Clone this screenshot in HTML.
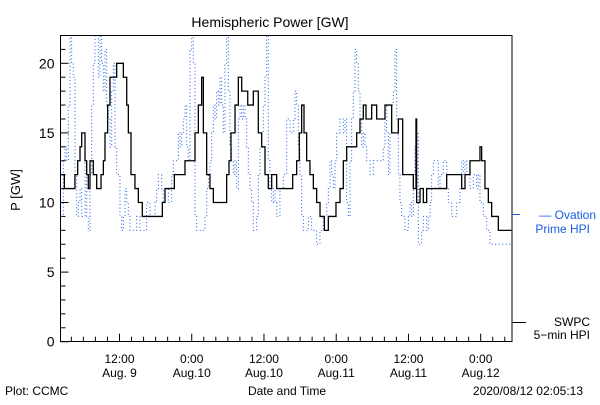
<!DOCTYPE html>
<html><head><meta charset="utf-8"><style>
body{margin:0;background:#fff;}
svg text{font-family:"Liberation Sans",sans-serif;}
</style></head><body>
<svg id="chart" width="600" height="400" xmlns="http://www.w3.org/2000/svg">
<rect width="600" height="400" fill="#fff"/>
<text x="270" y="27" font-size="14" text-anchor="middle">Hemispheric Power [GW]</text>
<text transform="translate(20,190) rotate(-90)" font-size="13" text-anchor="middle">P [GW]</text>
<g id="yaxis"></g>
<g id="xaxis"></g>
<g id="series"></g>
<rect x="60.5" y="35.5" width="451.5" height="306" fill="none" stroke="#000" stroke-width="1"/>
<line x1="512" y1="214.5" x2="520" y2="214.5" stroke="#1a5ce6" stroke-width="1"/>
<text x="596" y="219" font-size="12" fill="#1a5ce6" text-anchor="end">— Ovation</text>
<text x="590" y="233" font-size="12" fill="#1a5ce6" text-anchor="end">Prime HPI</text>
<line x1="512" y1="322.5" x2="526" y2="322.5" stroke="#000" stroke-width="1"/>
<text x="590" y="326" font-size="12" text-anchor="end">SWPC</text>
<text x="590" y="339" font-size="12" text-anchor="end">5−min HPI</text>
<text x="287" y="395" font-size="12" text-anchor="middle">Date and Time</text>
<text x="5" y="395" font-size="12">Plot: CCMC</text>
<text x="583" y="395" font-size="12" text-anchor="end">2020/08/12 02:05:13</text>
</svg>
<script>
const yTicks=[0,5,10,15,20];
const xTickHours=[9.8,21.8,33.8,45.8,57.8,69.8];
const xTickTime=["12:00","0:00","12:00","0:00","12:00","0:00"];
const xTickDate=["Aug. 9","Aug.10","Aug.10","Aug.11","Aug.11","Aug.12"];
const swpcT=[0,0.64,2.4,2.85,3.24,3.52,4.07,4.35,4.62,4.9,5.45,6.01,6.73,7.12,7.39,7.83,8.22,9.33,10.44,11.0,11.27,11.71,12.37,12.93,13.59,16.92,17.36,18.91,20.68,22.34,22.9,23.45,23.73,24.28,24.83,25.39,27.6,27.99,28.32,28.99,29.54,30.1,31.1,32.03,32.86,33.42,33.97,34.52,35.08,35.91,36.46,38.57,39.23,39.67,40.06,40.45,40.89,41.44,42.0,42.55,43.11,43.83,44.49,45.76,46.43,46.98,47.54,49.2,49.75,50.3,50.75,51.69,52.52,53.9,55.01,56.12,56.84,58.61,59.05,59.16,59.72,60.27,60.82,64.15,66.64,67.19,68.02,69.68,69.96,70.51,71.07,71.62,72.73,75.05];
const swpcV=[12,11,12,13,14,15,13,12,11,13,12,11,12,13,15,17,19,20,19,17,15,12,11,10,9,10,11,12,13,15,17,19,15,12,11,10,12,13,15,17,19,18,17,18,15,14,12,11,12,11,11,12,13,15,17,15,13,12,11,10,9,8,9,10,11,13,14,15,16,17,16,17,16,17,15,16,12,11,16,10,11,10,11,12,11,12,13,14,13,11,10,9,8,8];
const ovT=[0.19,0.47,0.75,1.02,1.30,1.58,1.85,2.13,2.41,2.69,2.96,3.24,3.52,4.07,4.35,4.62,4.90,5.18,5.45,5.73,6.01,6.28,6.56,6.84,7.11,7.39,7.67,7.95,8.22,8.50,8.78,9.05,9.33,9.61,9.88,10.16,10.44,10.71,10.99,11.27,11.54,11.82,12.37,12.65,13.20,13.76,14.31,14.87,15.70,15.97,16.25,16.53,16.80,17.08,17.36,17.91,18.46,18.74,19.30,19.57,19.85,20.13,20.40,20.68,20.96,21.23,21.51,21.79,22.06,22.34,22.62,23.17,23.73,24.00,24.28,24.56,24.83,25.11,25.39,25.66,25.94,26.22,26.49,26.77,27.05,27.32,27.60,27.88,28.15,28.43,28.71,28.99,29.26,29.54,29.82,30.09,30.37,30.65,30.92,31.20,31.48,31.75,32.03,32.31,32.58,32.86,33.14,33.41,33.69,33.97,34.24,34.52,34.80,35.08,35.35,35.63,35.91,36.46,37.01,37.29,37.57,38.12,38.67,38.95,39.23,39.51,39.78,40.06,40.34,40.89,41.17,41.72,42.27,42.55,43.10,43.66,44.21,44.49,44.77,45.04,45.32,45.60,45.87,46.43,46.98,47.26,47.53,47.81,48.09,48.36,48.64,48.92,49.20,49.47,49.75,50.03,50.30,50.58,50.86,51.41,51.96,53.07,53.35,53.62,53.90,54.18,54.46,54.73,55.01,55.29,55.56,55.84,56.12,56.39,56.67,56.95,57.22,57.50,57.78,58.05,58.33,58.61,58.88,59.16,59.44,59.99,60.27,60.82,61.10,61.38,61.65,61.93,62.48,62.76,63.04,63.59,64.15,64.42,64.70,64.98,65.25,65.81,66.36,66.64,66.91,67.19,67.47,68.02,68.57,68.85,69.13,69.40,69.68,70.23,70.79,71.34,71.90,72.45,75.05];
const ovV=[9,13,14,13,17,22,20,19,12,9,10,11,9,13,9,8,12,17,20,22,22,19,22,20,18,21,17,16,14,18,20,14,12,12,9,8,9,11,10,9,8,8,8,9,8,8,10,9,10,11,12,12,11,10,11,10,12,13,13,15,14,15,16,17,14,13,21,22,20,9,8,8,8,9,11,12,13,15,17,16,18,17,19,17,15,20,22,18,14,13,12,13,11,16,17,16,17,16,14,12,11,10,8,8,9,12,14,15,17,19,22,13,11,10,11,10,9,11,12,12,16,15,16,18,17,14,12,9,8,8,9,8,8,7,8,9,10,11,13,12,11,13,15,16,15,16,10,9,13,16,18,21,20,18,16,14,15,14,13,12,13,13,13,14,17,15,12,15,17,18,21,16,12,10,9,9,8,8,9,10,9,12,14,15,7,8,9,8,9,10,12,13,13,11,12,13,11,10,10,9,9,10,11,13,12,13,12,11,12,12,11,12,10,9,8,7,7,7,8,8];
const X0=60.5,PXH=6.02,Y0=341.7,PYU=13.92,YTOP=35.5,XR=512;
const xs=h=>X0+h*PXH;
const ys=v=>Math.max(YTOP,Y0-v*PYU);
const NS="http://www.w3.org/2000/svg";
function mk(tag,attrs,parent){const e=document.createElementNS(NS,tag);for(const k in attrs)e.setAttribute(k,attrs[k]);parent.appendChild(e);return e;}
const ya=document.getElementById('yaxis');
for(let v=0;v<=22;v++){const y=ys(v);const t=mk('line',{x1:X0,x2:X0+(v%5===0?8:5),y1:y,y2:y,stroke:'#000'},ya);

}
yTicks.forEach(v=>{const t=mk('text',{x:X0-6,y:ys(v)+5,'font-size':14,'text-anchor':'end'},ya);t.textContent=v;

});
const xa=document.getElementById('xaxis');
for(let h=xTickHours[0]-10;h<=75;h+=2){if(h<0)continue;const x=xs(h);const maj=xTickHours.some(m=>Math.abs(m-h)<0.01);
const t=mk('line',{x1:x,x2:x,y1:Y0,y2:Y0-(maj?8:5),stroke:'#000'},xa);

}
xTickHours.forEach((h,i)=>{const t1=mk('text',{x:xs(h),y:363,'font-size':12,'text-anchor':'middle'},xa);t1.textContent=xTickTime[i];


const t2=mk('text',{x:xs(h),y:377,'font-size':12,'text-anchor':'middle'},xa);t2.textContent=xTickDate[i];

});
function stepPath(T,V){let d='';for(let i=0;i<T.length;i++){const x=Math.min(XR,xs(T[i])),y=ys(V[i]);
if(i===0)d+='M'+x+','+y;else d+='H'+x+'V'+y;}return d;}
const sg=document.getElementById('series');
const ov=mk('path',{d:stepPath(ovT,ovV),fill:'none',stroke:'#1a5ce6','stroke-width':1,'stroke-dasharray':'1,2.5'},sg);


const sw=mk('path',{d:stepPath(swpcT,swpcV),fill:'none',stroke:'#000','stroke-width':1.3},sg);


</script>
</body></html>
